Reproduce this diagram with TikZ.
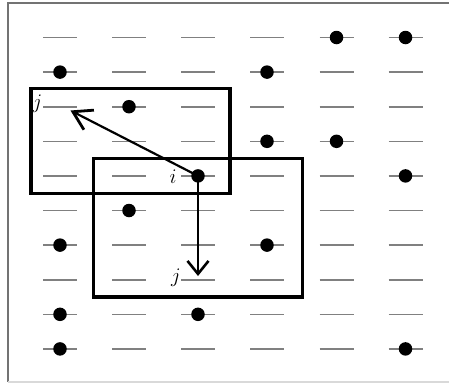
\documentclass[tikz,border=0pt]{standalone}
\usetikzlibrary{arrows.meta}
\begin{document}
\begin{tikzpicture}[x=1pt,y=-1pt,
  tickline/.style={draw=black!50,line width=1.6pt},
  dot/.style={circle,fill=black,inner sep=0pt,minimum size=13.5pt},
  box/.style={draw=black,line width=3.6pt},
  lbl/.style={inner sep=0pt,font=\fontsize{21}{25}\selectfont},
  arr/.style={draw=black,line width=2.2pt}]
\useasboundingbox (0,0) rectangle (449,383);
% frame
\draw[black!55,line width=1.5pt] (449,3) -- (8,3) -- (8,382);
\draw[black!15,line width=1.5pt] (8,382) -- (449,382);
% grid dashes
\foreach \cx in {60,129,198,267,336.5,405.5}{
  \foreach \r in {1,...,10}{
    \draw[tickline] ({\cx-17},{37.5+34.6*(\r-1)}) -- ({\cx+17},{37.5+34.6*(\r-1)});
  }
}
% dots
\foreach \c/\cx/\r in {5/336.5/1,6/405.5/1,1/60/2,4/267/2,2/129/3,4/267/4,5/336.5/4,3/198/5,6/405.5/5,2/129/6,1/60/7,4/267/7,1/60/9,3/198/9,1/60/10,6/405.5/10}{
  \node[dot] (d\c\r) at (\cx,{37.5+34.6*(\r-1)}) {};
}
% boxes
\draw[box] (30.7,88.5) rectangle (229.7,193.3);
\draw[box] (93.5,158.3) rectangle (302.3,296.7);
% arrows
\coordinate (t1) at (70.5,110.5);
\coordinate (t2) at (198,276);
\draw[arr,-{Straight Barb[length=18pt,width=22pt,line width=2.8pt]}] (d35.center) -- (t1);
\draw[arr,-{Straight Barb[length=13pt,width=21pt,line width=2.6pt]}] (d35.center) -- (t2);
% labels
\node[lbl] (li) at (173,177) {$i$};
\node[lbl] (lj1) at (37.5,104) {$j$};
\node[lbl] (lj2) at (176,278) {$j$};
\end{tikzpicture}
\end{document}
